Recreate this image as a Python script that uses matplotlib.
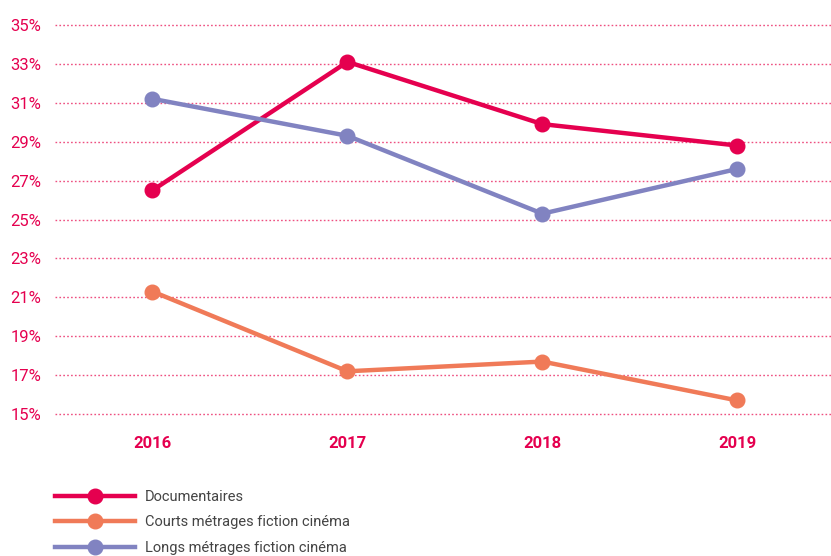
import matplotlib.pyplot as plt

years = ["2016", "2017", "2018", "2019"]
documentaires = [26.5, 33.1, 29.9, 28.8]
courts = [21.3, 17.2, 17.7, 15.7]
longs = [31.2, 29.3, 25.3, 27.6]
yticks = [15, 17, 19, 21, 23, 25, 27, 29, 31, 33, 35]

pink = "#e5004f"
plt.rcParams["font.family"] = ["Roboto", "DejaVu Sans"]

fig = plt.figure(figsize=(8.31, 5.56), dpi=100)
W, H = 831, 556
# axes spans 14.8% .. 35.2%
ax = fig.add_axes([55 / W, 1 - 418 / H, (831 - 55) / W, (418 - 21) / H])

x = range(len(years))
series = [
    (documentaires, "Documentaires", "#e5004f"),
    (courts, "Courts métrages fiction cinéma", "#f07a58"),
    (longs, "Longs métrages fiction cinéma", "#8183c1"),
]
for vals, label, color in series:
    ax.plot(x, vals, color=color, lw=3.2, marker="o", ms=10.5, label=label,
            clip_on=False, zorder=3)

ax.set_xlim(-0.5, 3.48)
ax.set_ylim(14.8, 35.2)
ax.set_yticks(yticks)
ax.set_yticklabels([f"{v}%" for v in yticks])
ax.set_xticks(list(x))
ax.set_xticklabels(years, fontweight="bold")
for s in ax.spines.values():
    s.set_visible(False)
ax.tick_params(axis="y", length=0, pad=10, labelsize=12, labelcolor=pink)
ax.tick_params(axis="x", length=0, pad=13, labelsize=12, labelcolor=pink)
ax.yaxis.grid(True, color="#ee4f80", linestyle=(0, (1.2, 1.6)), lw=1.0)
ax.set_axisbelow(True)

fig.legend(loc="upper left", bbox_to_anchor=(55 / W, 1 - 490 / H), frameon=False,
           handlelength=5.5, handletextpad=0.65, labelspacing=0.78,
           fontsize=10.5, labelcolor="#444444", borderaxespad=0, borderpad=0)

fig.savefig("out.png", dpi=100)
